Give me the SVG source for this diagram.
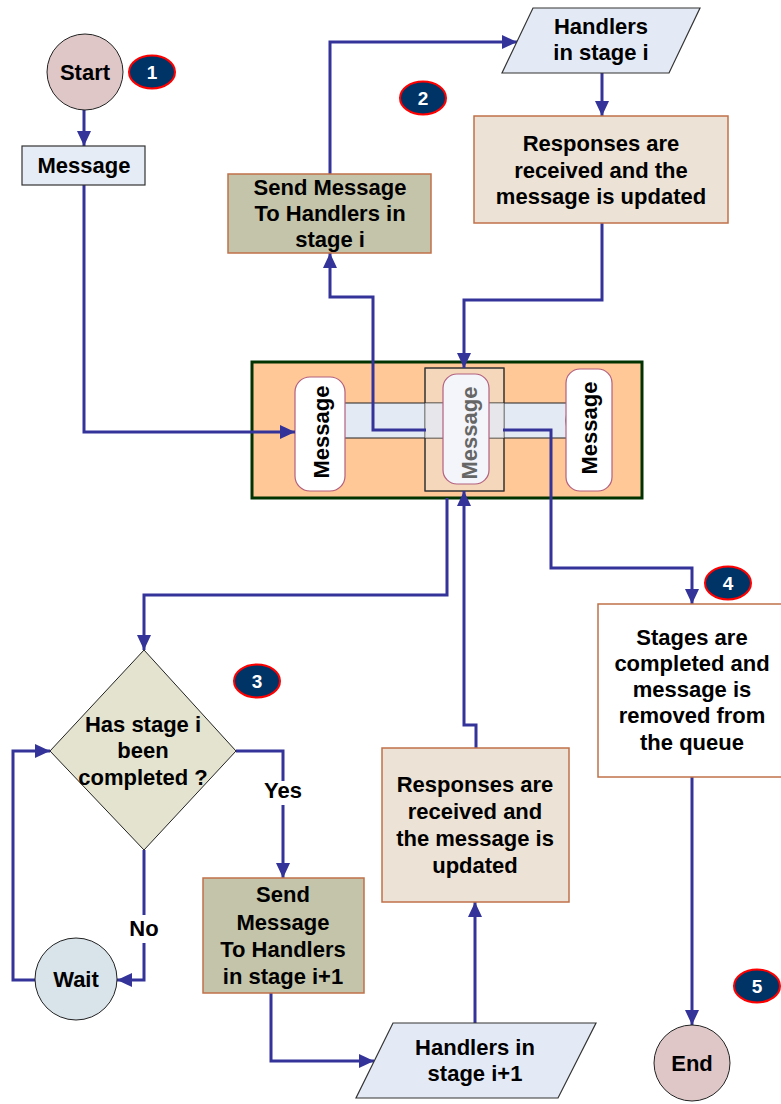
<svg xmlns="http://www.w3.org/2000/svg" width="781" height="1104" viewBox="0 0 781 1104">
  <style>
    text { font-family: "Liberation Sans", Arial, sans-serif; font-weight: bold; font-size: 22px; fill: #000; text-anchor: middle; }
    .term { fill: #dfc7c7; stroke: #222; stroke-width: 1; }
    .wait { fill: #d8e3ea; stroke: #222; stroke-width: 1; }
    .msg { fill: #e6ecf6; stroke: #333; stroke-width: 1.2; }
    .olive { fill: #c4c4aa; stroke: #c0704a; stroke-width: 1.5; }
    .resp { fill: #ece3d6; stroke: #c0704a; stroke-width: 1.5; }
    .plain { fill: #fff; stroke: #c0704a; stroke-width: 1.5; }
    .io { fill: #e4eaf5; stroke: #333; stroke-width: 1.2; }
    .decision { fill: #e3e3d0; stroke: #222; stroke-width: 1; }
    .pill { fill: #fff; stroke: #b3607f; stroke-width: 1.2; }
    .badge ellipse { fill: #003366; stroke: #ff0000; stroke-width: 2; }
    .badge text { fill: #fff; font-size: 19px; }
    .conn path { fill: none; stroke: #333399; stroke-width: 3; }
    .lbl-bg { fill: #fff; }
  </style>
  <defs>
    <marker id="arrow" markerUnits="userSpaceOnUse" markerWidth="15" markerHeight="14" refX="15" refY="7" orient="auto">
      <path d="M0,0 L15,7 L0,14 z" fill="#333399"/>
    </marker>
  </defs>

  <!-- queue -->
  <g id="queue">
    <rect x="252" y="362" width="390" height="136" fill="#ffc896" stroke="#003300" stroke-width="3"/>
    <rect x="425" y="368" width="79" height="123" fill="#f5d8bc" stroke="#333" stroke-width="1"/>
    <rect x="330" y="403" width="245" height="35" fill="#e4eaf4" stroke="#222" stroke-width="1"/>
    <ellipse cx="574" cy="420.5" rx="8" ry="17.5" fill="#e4eaf4" stroke="#222" stroke-width="1"/>
    <rect x="425" y="368" width="79" height="123" fill="none" stroke="#333" stroke-width="1"/>
    <rect x="425" y="403" width="79" height="35" fill="#e9e4e2" fill-opacity="0.5"/>
    <g id="msg-left">
      <rect class="pill" x="295" y="377" width="50" height="114" rx="15"/>
      <text transform="translate(329,432) rotate(-90)">Message</text>
    </g>
    <g id="msg-current">
      <rect class="pill" x="443" y="374" width="46" height="110" rx="14" style="fill:#f3f5fa"/>
      <text transform="translate(477,433) rotate(-90)" style="fill:#666">Message</text>
    </g>
    <g id="msg-right">
      <rect class="pill" x="566" y="369" width="46" height="122" rx="14"/>
      <text transform="translate(597,428) rotate(-90)">Message</text>
    </g>
  </g>

  <!-- connectors -->
  <g id="connectors" class="conn">
    <path d="M84,110 V146" marker-end="url(#arrow)"/>
    <path d="M84,185 V432 H295" marker-end="url(#arrow)"/>
    <path d="M426,430 H373 V297 H330 V253" marker-end="url(#arrow)"/>
    <path d="M330,174 V42 H517" marker-end="url(#arrow)"/>
    <path d="M602,73 V116" marker-end="url(#arrow)"/>
    <path d="M602,223 V300 H464 V368" marker-end="url(#arrow)"/>
    <path d="M503,430 H551 V568 H692 V604" marker-end="url(#arrow)"/>
    <path d="M447,498 V595 H144 V650" marker-end="url(#arrow)"/>
    <path d="M236,751 H283 V878" marker-end="url(#arrow)"/>
    <path d="M144,850 V980 H117" marker-end="url(#arrow)"/>
    <path d="M35,980 H13 V751 H50" marker-end="url(#arrow)"/>
    <path d="M271,993 V1061 H374" marker-end="url(#arrow)"/>
    <path d="M475,1023 V902" marker-end="url(#arrow)"/>
    <path d="M476,748 V725 H464 V491" marker-end="url(#arrow)"/>
    <path d="M692,777 V1025" marker-end="url(#arrow)"/>
    <rect class="lbl-bg" x="262" y="781" width="42" height="24"/>
    <text x="283" y="798">Yes</text>
    <rect class="lbl-bg" x="128" y="915" width="32" height="28"/>
    <text x="144" y="936">No</text>
  </g>

  <g id="start">
    <circle class="term" cx="85" cy="72" r="38"/>
    <text x="85" y="80">Start</text>
  </g>
  <g id="message">
    <rect class="msg" x="22" y="146" width="123" height="39"/>
    <text x="84" y="173">Message</text>
  </g>
  <g id="send-stage-i">
    <rect class="olive" x="228" y="174" width="203" height="79"/>
    <text x="330" y="195">Send Message</text>
    <text x="330" y="221">To Handlers in</text>
    <text x="330" y="247">stage i</text>
  </g>
  <g id="handlers-stage-i">
    <polygon class="io" points="533,8 700,8 669,73 502,73"/>
    <text x="601" y="34">Handlers</text>
    <text x="601" y="60">in stage i</text>
  </g>
  <g id="responses-stage-i">
    <rect class="resp" x="474" y="116" width="254" height="107"/>
    <text x="601" y="151">Responses are</text>
    <text x="601" y="178">received and the</text>
    <text x="601" y="204">message is updated</text>
  </g>
  <g id="decision">
    <polygon class="decision" points="144,650 236,751 144,850 50,751"/>
    <text x="143" y="732">Has stage i</text>
    <text x="143" y="758">been</text>
    <text x="143" y="785">completed ?</text>
  </g>
  <g id="wait">
    <circle class="wait" cx="76" cy="979" r="41"/>
    <text x="76" y="987">Wait</text>
  </g>
  <g id="send-stage-i1">
    <rect class="olive" x="203" y="878" width="161" height="115"/>
    <text x="283" y="902">Send</text>
    <text x="283" y="930">Message</text>
    <text x="283" y="957">To Handlers</text>
    <text x="283" y="984">in stage i+1</text>
  </g>
  <g id="handlers-stage-i1">
    <polygon class="io" points="393,1023 596,1023 558,1098 356,1098"/>
    <text x="475" y="1055">Handlers in</text>
    <text x="475" y="1081">stage i+1</text>
  </g>
  <g id="responses-stage-i1">
    <rect class="resp" x="382" y="748" width="187" height="154"/>
    <text x="475" y="792">Responses are</text>
    <text x="475" y="819">received and</text>
    <text x="475" y="846">the message is</text>
    <text x="475" y="873">updated</text>
  </g>
  <g id="stages-done">
    <rect class="plain" x="598" y="604" width="190" height="173"/>
    <text x="692" y="645">Stages are</text>
    <text x="692" y="671">completed and</text>
    <text x="692" y="697">message is</text>
    <text x="692" y="723">removed from</text>
    <text x="692" y="750">the queue</text>
  </g>
  <g id="end">
    <circle class="term" cx="692" cy="1063" r="38"/>
    <text x="692" y="1071">End</text>
  </g>

  <!-- step badges -->
  <g id="badge-1" class="badge"><ellipse cx="152" cy="72" rx="23" ry="16.5"/><text x="152" y="79">1</text></g>
  <g id="badge-2" class="badge"><ellipse cx="423" cy="98" rx="23" ry="16.5"/><text x="423" y="105">2</text></g>
  <g id="badge-3" class="badge"><ellipse cx="257" cy="681" rx="23" ry="16.5"/><text x="257" y="688">3</text></g>
  <g id="badge-4" class="badge"><ellipse cx="728" cy="583" rx="23" ry="16.5"/><text x="728" y="590">4</text></g>
  <g id="badge-5" class="badge"><ellipse cx="757" cy="986" rx="23" ry="16.5"/><text x="757" y="993">5</text></g>
</svg>
